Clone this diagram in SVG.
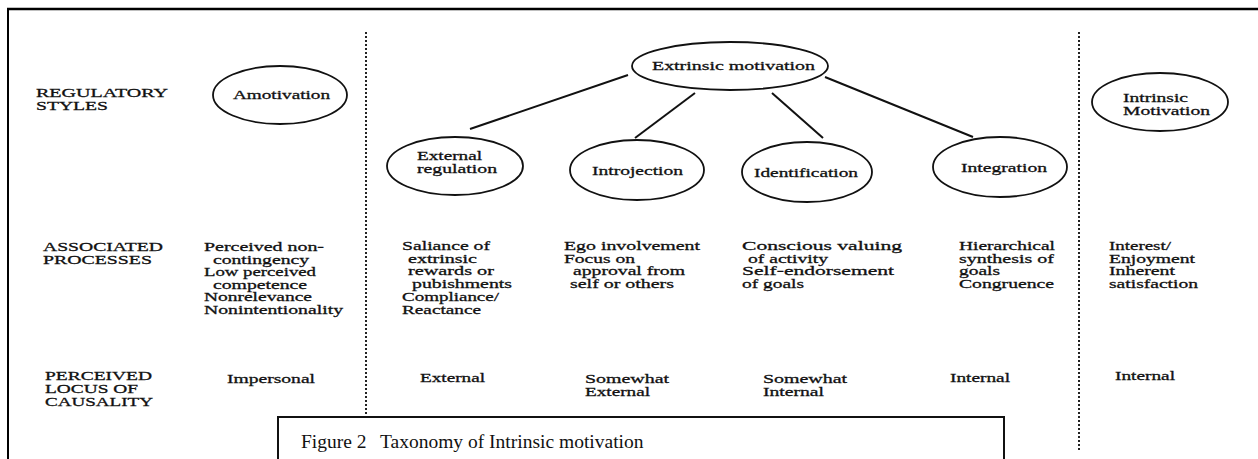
<svg xmlns="http://www.w3.org/2000/svg" width="1258" height="459" viewBox="0 0 1258 459">
<style>
.t{font-family:"Liberation Serif","Times New Roman",serif;font-size:13.5px;fill:#111;stroke:#111;stroke-width:0.3}
.n{fill:none;stroke:#111;stroke-width:1.8}
.c{fill:none;stroke:#111;stroke-width:2}
.d{fill:none;stroke:#222;stroke-width:2;stroke-dasharray:2 2}
.cap{font-family:"Liberation Serif","Times New Roman",serif;font-size:19.5px;fill:#111}
</style>
<rect width="1258" height="459" fill="#fff"/>
<g id="frame">
<path d="M7,9 H1258" stroke="#000" stroke-width="2.5" fill="none"/>
<path d="M8,8 V459" stroke="#000" stroke-width="2" fill="none"/>
<path class="d" d="M366,32 V417"/>
<path class="d" d="M1079,32 V452"/>
</g>
<g id="row-labels">
<text class="t" x="36" y="96.5" textLength="132" lengthAdjust="spacingAndGlyphs">REGULATORY</text>
<text class="t" x="36" y="109.5" textLength="72" lengthAdjust="spacingAndGlyphs">STYLES</text>
<text class="t" x="43" y="250.5" textLength="120" lengthAdjust="spacingAndGlyphs">ASSOCIATED</text>
<text class="t" x="43" y="263.5" textLength="109" lengthAdjust="spacingAndGlyphs">PROCESSES</text>
<text class="t" x="45" y="379.5" textLength="107" lengthAdjust="spacingAndGlyphs">PERCEIVED</text>
<text class="t" x="45" y="392.5" textLength="93" lengthAdjust="spacingAndGlyphs">LOCUS OF</text>
<text class="t" x="45" y="405.5" textLength="108" lengthAdjust="spacingAndGlyphs">CAUSALITY</text>
</g>
<g id="connectors">
<line class="c" x1="628" y1="75" x2="470" y2="129"/>
<line class="c" x1="695" y1="93" x2="635" y2="138"/>
<line class="c" x1="772" y1="93" x2="823" y2="138"/>
<line class="c" x1="825" y1="77" x2="973" y2="137"/>
</g>
<g id="amotivation">
<ellipse class="n" cx="280" cy="95" rx="67" ry="29"/>
<text class="t" x="233" y="99" textLength="97" lengthAdjust="spacingAndGlyphs">Amotivation</text>
</g>
<g id="extrinsic-motivation">
<ellipse class="n" cx="730" cy="66" rx="98" ry="24"/>
<text class="t" x="652" y="70" textLength="163" lengthAdjust="spacingAndGlyphs">Extrinsic motivation</text>
</g>
<g id="external-regulation">
<ellipse class="n" cx="455" cy="166" rx="68" ry="29"/>
<text class="t" x="417" y="159.5" textLength="65" lengthAdjust="spacingAndGlyphs">External</text>
<text class="t" x="417" y="172.5" textLength="80" lengthAdjust="spacingAndGlyphs">regulation</text>
</g>
<g id="introjection">
<ellipse class="n" cx="637" cy="170" rx="67" ry="30"/>
<text class="t" x="592" y="175" textLength="91" lengthAdjust="spacingAndGlyphs">Introjection</text>
</g>
<g id="identification">
<ellipse class="n" cx="807" cy="172" rx="65" ry="30"/>
<text class="t" x="754" y="177" textLength="104" lengthAdjust="spacingAndGlyphs">Identification</text>
</g>
<g id="integration">
<ellipse class="n" cx="1000" cy="167" rx="67" ry="30"/>
<text class="t" x="961" y="172" textLength="86" lengthAdjust="spacingAndGlyphs">Integration</text>
</g>
<g id="intrinsic-motivation">
<ellipse class="n" cx="1160" cy="102" rx="68" ry="29"/>
<text class="t" x="1123" y="102" textLength="65" lengthAdjust="spacingAndGlyphs">Intrinsic</text>
<text class="t" x="1123" y="115" textLength="87" lengthAdjust="spacingAndGlyphs">Motivation</text>
</g>
<g id="col-amotivation">
<text class="t" x="204" y="251" textLength="120" lengthAdjust="spacingAndGlyphs">Perceived non-</text>
<text class="t" x="213" y="263.5" textLength="96" lengthAdjust="spacingAndGlyphs">contingency</text>
<text class="t" x="204" y="276" textLength="112" lengthAdjust="spacingAndGlyphs">Low perceived</text>
<text class="t" x="213" y="288.5" textLength="94" lengthAdjust="spacingAndGlyphs">competence</text>
<text class="t" x="204" y="301" textLength="108" lengthAdjust="spacingAndGlyphs">Nonrelevance</text>
<text class="t" x="204" y="313.5" textLength="139" lengthAdjust="spacingAndGlyphs">Nonintentionality</text>
<text class="t" x="227" y="383" textLength="88" lengthAdjust="spacingAndGlyphs">Impersonal</text>
</g>
<g id="col-external">
<text class="t" x="402" y="250" textLength="88" lengthAdjust="spacingAndGlyphs">Saliance of</text>
<text class="t" x="408" y="262.5" textLength="69" lengthAdjust="spacingAndGlyphs">extrinsic</text>
<text class="t" x="408" y="275" textLength="86" lengthAdjust="spacingAndGlyphs">rewards or</text>
<text class="t" x="412" y="288" textLength="100" lengthAdjust="spacingAndGlyphs">pubishments</text>
<text class="t" x="402" y="301" textLength="97" lengthAdjust="spacingAndGlyphs">Compliance/</text>
<text class="t" x="402" y="314" textLength="79" lengthAdjust="spacingAndGlyphs">Reactance</text>
<text class="t" x="420" y="382" textLength="65" lengthAdjust="spacingAndGlyphs">External</text>
</g>
<g id="col-introjection">
<text class="t" x="564" y="250" textLength="136" lengthAdjust="spacingAndGlyphs">Ego involvement</text>
<text class="t" x="564" y="262.5" textLength="71" lengthAdjust="spacingAndGlyphs">Focus on</text>
<text class="t" x="573" y="275" textLength="112" lengthAdjust="spacingAndGlyphs">approval from</text>
<text class="t" x="570" y="288" textLength="104" lengthAdjust="spacingAndGlyphs">self or others</text>
<text class="t" x="585" y="383" textLength="84" lengthAdjust="spacingAndGlyphs">Somewhat</text>
<text class="t" x="585" y="396" textLength="65" lengthAdjust="spacingAndGlyphs">External</text>
</g>
<g id="col-identification">
<text class="t" x="742" y="250" textLength="160" lengthAdjust="spacingAndGlyphs">Conscious valuing</text>
<text class="t" x="748" y="262.5" textLength="80" lengthAdjust="spacingAndGlyphs">of activity</text>
<text class="t" x="742" y="275" textLength="152" lengthAdjust="spacingAndGlyphs">Self-endorsement</text>
<text class="t" x="742" y="288" textLength="62" lengthAdjust="spacingAndGlyphs">of goals</text>
<text class="t" x="763" y="383" textLength="84" lengthAdjust="spacingAndGlyphs">Somewhat</text>
<text class="t" x="763" y="396" textLength="61" lengthAdjust="spacingAndGlyphs">Internal</text>
</g>
<g id="col-integration">
<text class="t" x="959" y="250" textLength="96" lengthAdjust="spacingAndGlyphs">Hierarchical</text>
<text class="t" x="959" y="262.5" textLength="95" lengthAdjust="spacingAndGlyphs">synthesis of</text>
<text class="t" x="959" y="275" textLength="41" lengthAdjust="spacingAndGlyphs">goals</text>
<text class="t" x="959" y="288" textLength="95" lengthAdjust="spacingAndGlyphs">Congruence</text>
<text class="t" x="950" y="382" textLength="60" lengthAdjust="spacingAndGlyphs">Internal</text>
</g>
<g id="col-intrinsic">
<text class="t" x="1109" y="250" textLength="62" lengthAdjust="spacingAndGlyphs">Interest/</text>
<text class="t" x="1109" y="262.5" textLength="86" lengthAdjust="spacingAndGlyphs">Enjoyment</text>
<text class="t" x="1109" y="275" textLength="66" lengthAdjust="spacingAndGlyphs">Inherent</text>
<text class="t" x="1109" y="288" textLength="89" lengthAdjust="spacingAndGlyphs">satisfaction</text>
<text class="t" x="1115" y="380" textLength="60" lengthAdjust="spacingAndGlyphs">Internal</text>
</g>
<g id="caption">
<path d="M278,459 V417 H1004 V459" fill="#fff" stroke="#111" stroke-width="2"/>
<text class="cap" x="301" y="448">Figure 2</text>
<text class="cap" x="380" y="448">Taxonomy of Intrinsic motivation</text>
</g>
</svg>
